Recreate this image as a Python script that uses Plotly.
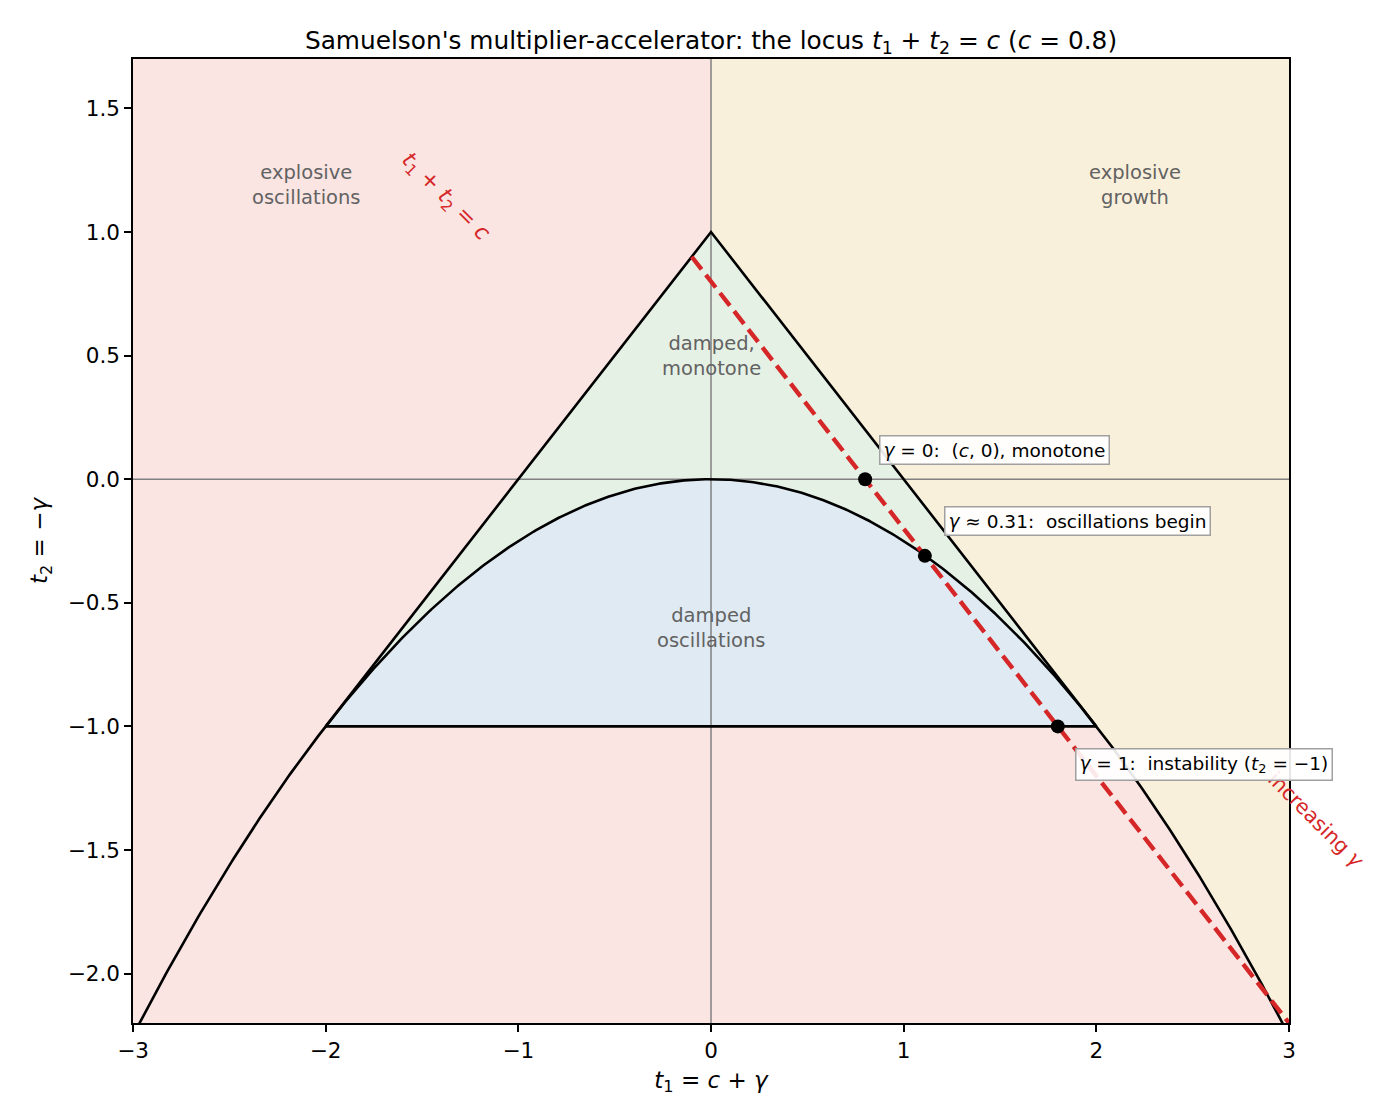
import numpy as np
import plotly.graph_objects as go

# ---- data ----
c = 0.8
x_range = [-3, 3]
y_range = [-2.2, 1.7]
triangle_t1 = [-2, 0, 2, -2]
triangle_t2 = [-1, 1, -1, -1]
locus_t1 = [-0.1, 3.0]               # t1 + t2 = c
gamma_pts = [0.0, 0.31, 1.0]          # marked values of gamma
pt_t1 = [c + g for g in gamma_pts]
pt_t2 = [-g for g in gamma_pts]
pt_labels = ["<i>γ</i> = 0:  (<i>c</i>, 0), monotone",
             "<i>γ</i> ≈ 0.31:  oscillations begin",
             "<i>γ</i> = 1:  instability (<i>t</i><sub>2</sub> = −1)"]
pt_label_pos = [(0.87, 0.12), (1.21, -0.17), (1.89, -1.155)]
region_labels = ["explosive<br>oscillations", "explosive<br>growth",
                 "damped,<br>monotone", "damped<br>oscillations"]
region_pos = [(-2.1, 1.19), (2.2, 1.19), (0.0, 0.5), (0.0, -0.6)]
x_ticks = [-3, -2, -1, 0, 1, 2, 3]
y_ticks = [1.5, 1.0, 0.5, 0.0, -0.5, -1.0, -1.5, -2.0]

# parabola t2 = -t1^2/4 (boundary between real and complex roots)
par_t1 = np.linspace(-3, 3, 601)
par_t2 = -par_t1 ** 2 / 4

PINK = "#fae5e3"
YELLOW = "#f9f0db"
GREEN = "#e6f1e6"
BLUE = "#e0eaf3"
RED = "#d62728"
FONT = "DejaVu Sans"

fig = go.Figure()

# background: explosive oscillations
fig.add_trace(go.Scatter(x=[x_range[0], x_range[1], x_range[1], x_range[0], x_range[0]],
                         y=[y_range[0], y_range[0], y_range[1], y_range[1], y_range[0]],
                         fill="toself", fillcolor=PINK, line=dict(width=0),
                         mode="lines", hoverinfo="skip"))
# explosive growth: t1>0, real roots
xr = par_t1[par_t1 >= 0]
fig.add_trace(go.Scatter(x=list(xr) + [x_range[1], 0],
                         y=list(-xr ** 2 / 4) + [y_range[1], y_range[1]],
                         fill="toself", fillcolor=YELLOW, line=dict(width=0),
                         mode="lines", hoverinfo="skip"))
# stability triangle
fig.add_trace(go.Scatter(x=triangle_t1, y=triangle_t2, fill="toself", fillcolor=GREEN,
                         line=dict(width=0), mode="lines", hoverinfo="skip"))
# damped oscillations (inside triangle, below parabola)
xb = par_t1[np.abs(par_t1) <= 2]
fig.add_trace(go.Scatter(x=list(xb) + [2, -2], y=list(-xb ** 2 / 4) + [-1, -1],
                         fill="toself", fillcolor=BLUE, line=dict(width=0),
                         mode="lines", hoverinfo="skip"))
# axes lines
fig.add_trace(go.Scatter(x=x_range, y=[0, 0], mode="lines",
                         line=dict(color="#808080", width=1.5), hoverinfo="skip"))
fig.add_trace(go.Scatter(x=[0, 0], y=y_range, mode="lines",
                         line=dict(color="#808080", width=1.5), hoverinfo="skip"))
# triangle outline
fig.add_trace(go.Scatter(x=triangle_t1, y=triangle_t2, mode="lines",
                         line=dict(color="black", width=2.6), hoverinfo="skip"))
# parabola
fig.add_trace(go.Scatter(x=par_t1, y=par_t2, mode="lines",
                         line=dict(color="black", width=2.6), hoverinfo="skip"))
# locus t1 + t2 = c
fig.add_trace(go.Scatter(x=locus_t1, y=[c - v for v in locus_t1], mode="lines",
                         line=dict(color=RED, width=4.4, dash="16px,7px"), hoverinfo="skip"))
# points
fig.add_trace(go.Scatter(x=pt_t1, y=pt_t2, mode="markers",
                         marker=dict(color="black", size=14), hoverinfo="skip"))

def to_paper(x, y):
    return ((x - x_range[0]) / (x_range[1] - x_range[0]),
            (y - y_range[0]) / (y_range[1] - y_range[0]))

ann = []
for txt, (x, y) in zip(region_labels, region_pos):
    ann.append(dict(x=x, y=y, text=txt, showarrow=False, xanchor="center", yanchor="middle",
                    font=dict(family=FONT, size=19.5, color="#626262")))
ann.append(dict(x=-1.38, y=1.14, text="<i>t</i><sub>1</sub> + <i>t</i><sub>2</sub> = <i>c</i>",
                showarrow=False, textangle=45, xanchor="center", yanchor="middle",
                font=dict(family=FONT, size=22, color=RED)))
px_, py_ = to_paper(3.14, -1.38)
ann.append(dict(x=px_, y=py_, xref="paper", yref="paper", text="increasing <i>γ</i>",
                showarrow=False, textangle=45, xanchor="center", yanchor="middle",
                font=dict(family=FONT, size=20.5, color=RED)))
for txt, (x, y) in zip(pt_labels, pt_label_pos):
    ann.append(dict(x=x, y=y, text=txt, showarrow=False, xanchor="left", yanchor="middle",
                    font=dict(family=FONT, size=18.5, color="black"),
                    bgcolor="rgba(255,255,255,0.9)", bordercolor="#a0a0a0", borderwidth=1.5,
                    borderpad=3))

fig.update_layout(
    width=1392, height=1112,
    margin=dict(l=125, r=111, t=51, b=97),
    paper_bgcolor="white", plot_bgcolor="white",
    showlegend=False,
    font=dict(family=FONT, size=21, color="black"),
    title=dict(text="Samuelson's multiplier-accelerator: the locus <i>t</i><sub>1</sub> + <i>t</i><sub>2</sub> = <i>c</i> (<i>c</i> = 0.8)",
               xref="paper", x=0.5, xanchor="center", y=1 - 32 / 1112, yanchor="middle",
               font=dict(family=FONT, size=24.8)),
    annotations=ann,
)
fig.update_xaxes(range=x_range, tickvals=x_ticks, showgrid=False, zeroline=False,
                 showline=True, linecolor="black", linewidth=1.5, mirror=True,
                 ticks="outside", ticklen=7, tickwidth=1.5, tickcolor="black",
                 tickfont=dict(size=21.5),
                 title=dict(text="<i>t</i><sub>1</sub> = <i>c</i> + <i>γ</i>", font=dict(size=23), standoff=10))
fig.update_yaxes(range=y_range, tickvals=y_ticks, tickformat=".1f", showgrid=False, zeroline=False,
                 showline=True, linecolor="black", linewidth=1.5, mirror=True,
                 ticks="outside", ticklen=7, tickwidth=1.5, tickcolor="black",
                 tickfont=dict(size=21.5),
                 title=dict(text="<i>t</i><sub>2</sub> = −<i>γ</i>", font=dict(size=23), standoff=14))

fig.write_html("out.html")
